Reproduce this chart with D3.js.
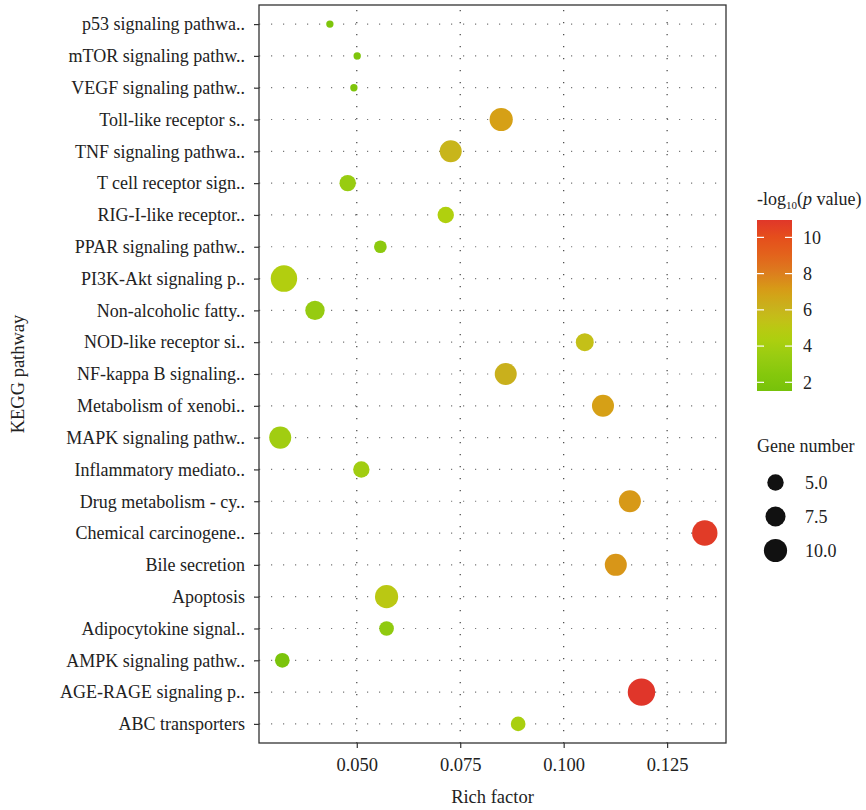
<!DOCTYPE html>
<html>
<head>
<meta charset="utf-8">
<script src="https://cdn.jsdelivr.net/npm/d3@7"></script>
<style>
  body { margin: 0; background: #fff; }
  svg text { font-family: "Liberation Serif", "DejaVu Serif", serif; fill: #222; }
</style>
</head>
<body>
<svg id="chart"></svg>
<script>
// pathways, top to bottom
let pathways = [
  'p53 signaling pathwa..', 'mTOR signaling pathw..', 'VEGF signaling pathw..',
  'Toll-like receptor s..', 'TNF signaling pathwa..', 'T cell receptor sign..',
  'RIG-I-like receptor..', 'PPAR signaling pathw..', 'PI3K-Akt signaling p..',
  'Non-alcoholic fatty..', 'NOD-like receptor si..', 'NF-kappa B signaling..',
  'Metabolism of xenobi..', 'MAPK signaling pathw..', 'Inflammatory mediato..',
  'Drug metabolism - cy..', 'Chemical carcinogene..', 'Bile secretion',
  'Apoptosis', 'Adipocytokine signal..', 'AMPK signaling pathw..',
  'AGE-RAGE signaling p..', 'ABC transporters'
]
let richFactor = [
  0.0435, 0.0501, 0.0493, 0.0849, 0.0727, 0.0478, 0.0715, 0.0557, 0.0324,
  0.0399, 0.1051, 0.0860, 0.1095, 0.0315, 0.0511, 0.1160, 0.1341, 0.1126,
  0.0572, 0.0572, 0.0320, 0.1188, 0.0890
]
let geneNumber = [1, 1, 1, 10, 9, 5, 5, 3, 13, 7, 6, 9, 9, 9, 5, 9, 12, 9, 10, 4, 4, 14, 4]
let logP = [
  2.0, 2.0, 2.0, 7.0, 6.0, 3.4, 4.5, 2.8, 4.6, 3.3, 5.5, 6.2, 7.0, 3.8, 3.8,
  7.2, 10.8, 7.3, 5.0, 3.0, 1.8, 11.0, 4.2
]
let xTicks = [0.050, 0.075, 0.100, 0.125]
let colorTicks = [2, 4, 6, 8, 10]
let sizeTicks = [5.0, 7.5, 10.0]
let colorStops = [1.5, 2.5, 3.5, 4.5, 5.5, 6.2, 7, 8, 9, 10, 11]
let colorRange = ['#76c20a', '#86c80c', '#9acc12', '#b0d00e', '#c4c018', '#c9b01c',
                  '#d6a016', '#dc7e1e', '#e3641c', '#e54e1c', '#e0362a']

let width = 866
let height = 810
let panel = {left: 259, right: 726, top: 5, bottom: 743}

let data = pathways.map((p, i) => ({
  name: p, rich: richFactor[i], genes: geneNumber[i], logp: logP[i]
}))

let svg = d3.select('#chart').attr('width', width).attr('height', height)

// scales
let xMin = d3.min(richFactor), xMax = d3.max(richFactor)
let pad = (xMax - xMin) * 0.05
let xScale = d3.scaleLinear()
  .domain([xMin - pad, xMax + pad])
  .range([panel.left, panel.right])

let yScale = d3.scalePoint()
  .domain(pathways)
  .range([panel.top, panel.bottom])
  .padding(0.6)

let colorScale = d3.scaleLinear().domain(colorStops).range(colorRange)
let rScale = d3.scaleSqrt().domain([0, 10]).range([0, 11.6])

// grid
let grid = svg.append('g')
grid.selectAll('.hgrid')
  .data(pathways)
  .enter()
  .append('line')
  .attr('x1', panel.left).attr('x2', panel.right)
  .attr('y1', d => yScale(d)).attr('y2', d => yScale(d))
  .attr('stroke', '#777').attr('stroke-width', 1.2)
  .attr('stroke-dasharray', '1.2,10.8').attr('stroke-dashoffset', -12)
grid.selectAll('.vgrid')
  .data(xTicks)
  .enter()
  .append('line')
  .attr('x1', d => xScale(d)).attr('x2', d => xScale(d))
  .attr('y1', panel.top).attr('y2', panel.bottom)
  .attr('stroke', '#444').attr('stroke-width', 1.2)
  .attr('stroke-dasharray', '1.2,10.8').attr('stroke-dashoffset', -5)

// points
svg.append('g')
  .selectAll('circle')
  .data(data)
  .enter()
  .append('circle')
  .attr('cx', d => xScale(d.rich))
  .attr('cy', d => yScale(d.name))
  .attr('r', d => rScale(d.genes))
  .attr('fill', d => colorScale(d.logp))

// panel border
svg.append('rect')
  .attr('x', panel.left).attr('y', panel.top)
  .attr('width', panel.right - panel.left).attr('height', panel.bottom - panel.top)
  .attr('fill', 'none').attr('stroke', '#333').attr('stroke-width', 1.3)

// axes
let xAxis = d3.axisBottom(xScale).tickValues(xTicks).tickFormat(d3.format('.3f'))
  .tickSize(5).tickPadding(10)
let gx = svg.append('g')
  .attr('transform', 'translate(0,' + panel.bottom + ')')
  .call(xAxis)
gx.select('.domain').remove()
gx.selectAll('line').attr('stroke', '#333').attr('stroke-width', 1.2)
gx.selectAll('text').style('font-size', '18.5px').attr('fill', '#222')

let yAxis = d3.axisLeft(yScale).tickSize(5).tickPadding(9)
let gy = svg.append('g')
  .attr('transform', 'translate(' + panel.left + ',0)')
  .call(yAxis)
gy.select('.domain').remove()
gy.selectAll('line').attr('stroke', '#333').attr('stroke-width', 1.2)
gy.selectAll('text').style('font-size', '18px').attr('fill', '#222')

// axis titles
svg.append('text')
  .attr('x', (panel.left + panel.right) / 2).attr('y', 803)
  .attr('text-anchor', 'middle').style('font-size', '18.5px')
  .text('Rich factor')
svg.append('text')
  .attr('transform', 'translate(24,' + (panel.top + panel.bottom) / 2 + ') rotate(-90)')
  .attr('text-anchor', 'middle').style('font-size', '18.5px')
  .text('KEGG pathway')

// colour legend
let bar = {x: 757, y: 220, w: 35, h: 171}
let cbScale = d3.scaleLinear().domain([1.52, 10.96]).range([bar.y + bar.h, bar.y])
let defs = svg.append('defs')
let grad = defs.append('linearGradient').attr('id', 'cgrad')
  .attr('x1', 0).attr('y1', 1).attr('x2', 0).attr('y2', 0)
d3.range(0, 1.0001, 0.05).forEach(t => {
  let v = 1.52 + t * (10.96 - 1.52)
  grad.append('stop').attr('offset', t).attr('stop-color', colorScale(v))
})
svg.append('text')
  .attr('x', 757).attr('y', 205).style('font-size', '18px')
  .html('-log<tspan font-size="11px" dy="4">10</tspan><tspan dy="-4">(</tspan><tspan font-style="italic">p</tspan> value)')
svg.append('rect')
  .attr('x', bar.x).attr('y', bar.y).attr('width', bar.w).attr('height', bar.h)
  .attr('fill', 'url(#cgrad)')
let cb = svg.append('g')
cb.selectAll('.tl')
  .data(colorTicks)
  .enter()
  .append('line')
  .attr('x1', bar.x).attr('x2', bar.x + 7)
  .attr('y1', d => cbScale(d)).attr('y2', d => cbScale(d))
  .attr('stroke', '#fff').attr('stroke-width', 1.2)
cb.selectAll('.tr')
  .data(colorTicks)
  .enter()
  .append('line')
  .attr('x1', bar.x + bar.w - 7).attr('x2', bar.x + bar.w)
  .attr('y1', d => cbScale(d)).attr('y2', d => cbScale(d))
  .attr('stroke', '#fff').attr('stroke-width', 1.2)
cb.selectAll('text')
  .data(colorTicks)
  .enter()
  .append('text')
  .attr('x', 803).attr('y', d => cbScale(d))
  .attr('dy', '0.35em').style('font-size', '18px')
  .text(d => d)

// size legend
svg.append('text')
  .attr('x', 757).attr('y', 452).style('font-size', '18px')
  .text('Gene number')
let sl = svg.append('g')
let slY = d3.scalePoint().domain(sizeTicks).range([482.5, 550.5])
sl.selectAll('circle')
  .data(sizeTicks)
  .enter()
  .append('circle')
  .attr('cx', 775.5).attr('cy', d => slY(d))
  .attr('r', d => rScale(d)).attr('fill', '#111')
sl.selectAll('text')
  .data(sizeTicks)
  .enter()
  .append('text')
  .attr('x', 805).attr('y', d => slY(d))
  .attr('dy', '0.35em').style('font-size', '18px')
  .text(d => d3.format('.1f')(d))
</script>
</body>
</html>
